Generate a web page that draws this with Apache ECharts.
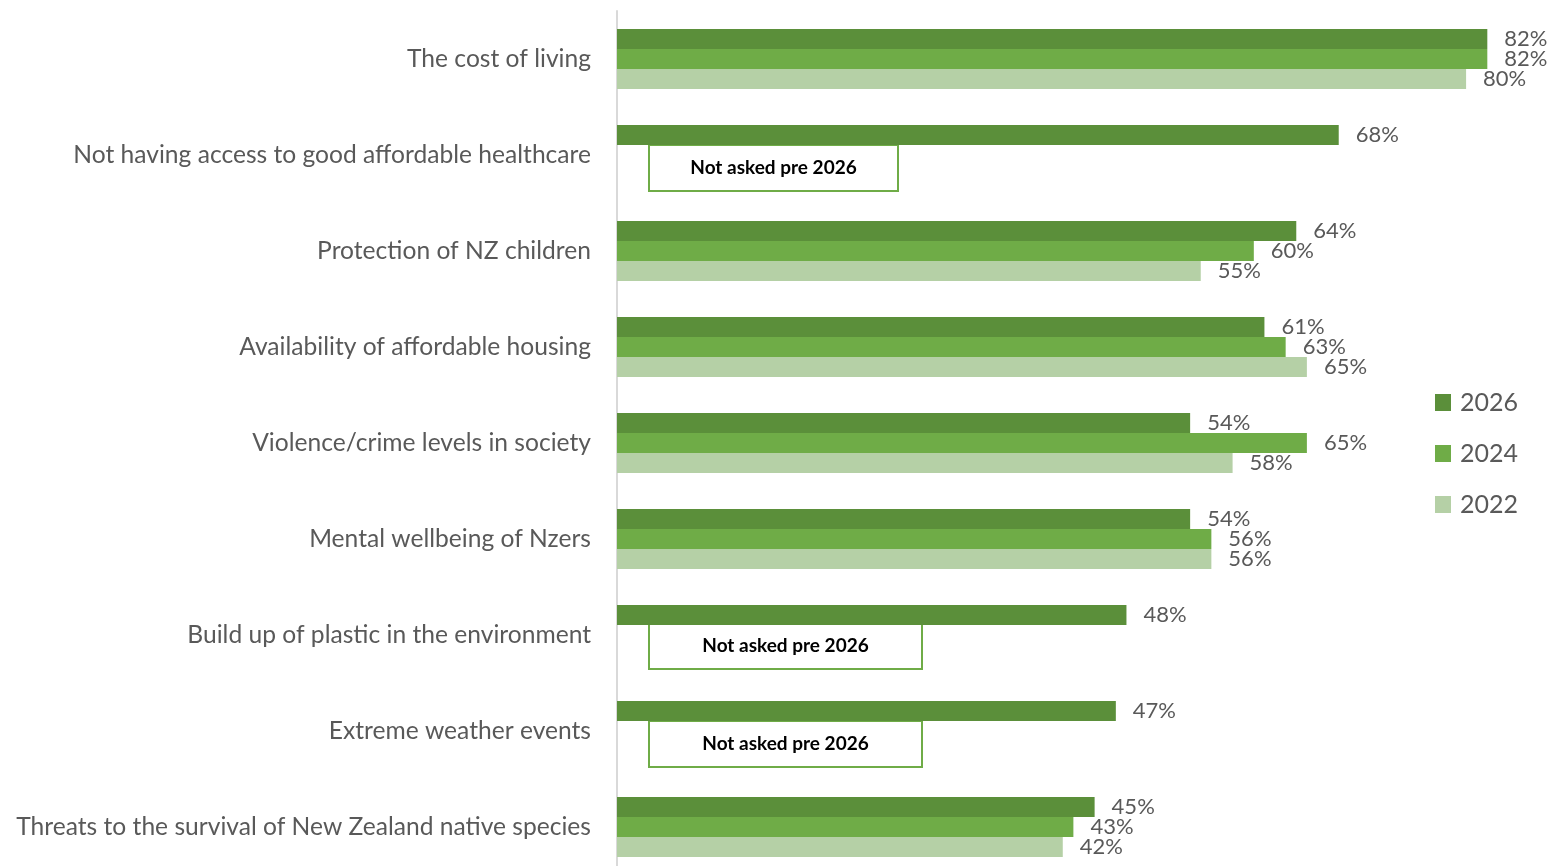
<!DOCTYPE html>
<html>
<head>
<meta charset="utf-8">
<script src="https://cdn.jsdelivr.net/npm/echarts@6/dist/echarts.min.js"></script>
<style>
  html, body { margin: 0; padding: 0; background: #ffffff; width: 1552px; height: 866px; overflow: hidden; }
  #chart { width: 1552px; height: 876px; }
</style>
</head>
<body>
<div id="chart"></div>
<script>
// Concerns about life in New Zealand, share of respondents (%)
const categories = [
  'The cost of living',
  'Not having access to good affordable healthcare',
  'Protection of NZ children',
  'Availability of affordable housing',
  'Violence/crime levels in society',
  'Mental wellbeing of Nzers',
  'Build up of plastic in the environment',
  'Extreme weather events',
  'Threats to the survival of New Zealand native species'
];
const seriesNames = ['2026', '2024', '2022'];
const values2026 = [82, 68, 64, 61, 54, 54, 48, 47, 45];
const values2024 = [82, null, 60, 63, 65, 56, null, null, 43];
const values2022 = [80, null, 55, 65, 58, 56, null, null, 42];
// Items that were new in 2026 (category indexes)
const newItems = [1, 6, 7];
const noteText = 'Not asked pre 2026';

// Styling
const FONT = 'Lato';
const TEXT_GREY = '#595959';
const COLORS = ['#5b8f3a', '#6fac47', '#b5d0a6'];
const noteBoxWidths = [249, 273, 273];
const noteBoxOffsets = [13, 11, 13];

const chart = echarts.init(document.getElementById('chart'), null, { renderer: 'canvas' });

function barSeries(name, data, color) {
  return {
    name: name,
    type: 'bar',
    data: data,
    barWidth: 20,
    barGap: '0%',
    itemStyle: { color: color },
    label: {
      show: true,
      position: 'right',
      distance: 17,
      formatter: p => p.value + '%',
      color: TEXT_GREY,
      fontFamily: FONT,
      fontSize: 22
    },
    emphasis: { disabled: true },
    animation: false
  };
}

const option = {
  backgroundColor: '#ffffff',
  animation: false,
  textStyle: { fontFamily: FONT },
  grid: { left: 617, top: 11, right: 1, height: 864, containLabel: false },
  legend: {
    orient: 'vertical',
    left: 1430,
    top: 385,
    itemWidth: 16,
    itemHeight: 17,
    itemGap: 26,
    icon: 'rect',
    textStyle: { color: TEXT_GREY, fontFamily: FONT, fontSize: 25, padding: [0, 0, 0, 4] },
    data: seriesNames
  },
  xAxis: {
    type: 'value',
    min: 0,
    max: 88,
    show: false
  },
  yAxis: {
    type: 'category',
    data: categories,
    inverse: true,
    axisLine: { show: true, lineStyle: { color: '#d9d9d9', width: 2 } },
    axisTick: { show: false },
    splitLine: { show: false },
    axisLabel: {
      margin: 26,
      color: TEXT_GREY,
      fontFamily: FONT,
      fontSize: 24.6
    }
  },
  series: [
    barSeries(seriesNames[0], values2026, COLORS[0]),
    barSeries(seriesNames[1], values2024, COLORS[1]),
    barSeries(seriesNames[2], values2022, COLORS[2]),
    {
      type: 'custom',
      name: 'notes',
      silent: true,
      animation: false,
      data: newItems.map(i => [0, i]),
      encode: { x: 0, y: 1 },
      renderItem: function (params, api) {
        const p = api.coord([0, api.value(1)]);
        const k = params.dataIndex;
        const w = noteBoxWidths[k];
        const h = 46;
        const x = p[0] + 32;
        const y = p[1] + noteBoxOffsets[k] - h / 2;
        return {
          type: 'group',
          children: [
            {
              type: 'rect',
              shape: { x: x, y: y, width: w, height: h },
              style: { fill: '#ffffff', stroke: '#6fac47', lineWidth: 2 }
            },
            {
              type: 'text',
              style: {
                x: x + w / 2,
                y: y + h / 2,
                text: noteText,
                align: 'center',
                verticalAlign: 'middle',
                fill: '#000000',
                font: 'bold 19px ' + FONT
              }
            }
          ]
        };
      }
    }
  ]
};

chart.setOption(option);
</script>
</body>
</html>
